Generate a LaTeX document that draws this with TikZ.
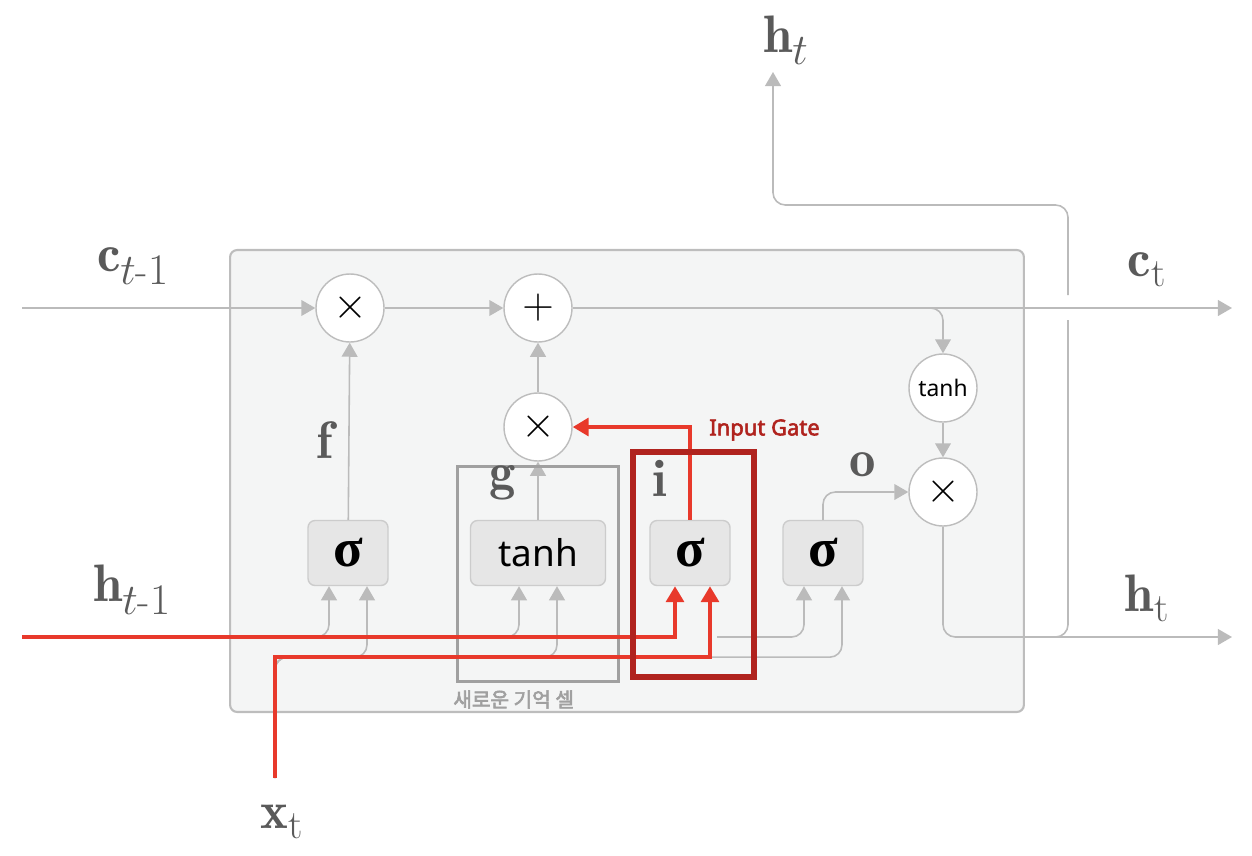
\documentclass[tikz,border=0pt]{standalone}
\usepackage{amsmath}
\usepackage{bm}
\usepackage{fontspec}
\setsansfont{Noto Sans}
\newfontfamily\kofont{Noto Sans CJK KR}[AutoFakeBold=3]
\newfontfamily\gatefont{Noto Sans}[AutoFakeBold=2.5]
\newfontfamily\sigfont{Liberation Serif}
\usetikzlibrary{arrows.meta,positioning,calc}
\definecolor{cellbg}{HTML}{F4F5F5}
\definecolor{celledge}{HTML}{BDBDBD}
\definecolor{gatebg}{HTML}{E6E6E6}
\definecolor{gateedge}{HTML}{CCCCCC}
\definecolor{wiregray}{HTML}{BBBBBB}
\definecolor{labelgray}{HTML}{5A5A5A}
\definecolor{hotred}{HTML}{E8392B}
\definecolor{darkred}{HTML}{B0231E}
\definecolor{memgray}{HTML}{A0A0A0}
\newcommand{\bigfont}{\fontsize{30}{34}\selectfont}
\DeclareMathSizes{30}{30}{23}{18}
\newcommand{\sig}{{\sigfont\bfseries σ}}
\tikzset{%
  % blocks
  cell/.style={draw=celledge, fill=cellbg, rounded corners=4pt, line width=1.2pt},
  op/.style={circle, draw=celledge, fill=white, minimum size=1.36cm, inner sep=0pt,
    line width=0.8pt, font=\fontsize{28}{30}\selectfont},
  gate/.style={draw=gateedge, fill=gatebg, rounded corners=4pt, minimum width=1.6cm,
    minimum height=1.3cm, inner sep=0pt, line width=0.8pt, font=\fontsize{31}{34}\selectfont},
  memframe/.style={draw=memgray, line width=1.7pt, minimum width=3.22cm, minimum height=4.3cm},
  gateframe/.style={draw=darkred, line width=3.4pt, minimum width=2.42cm, minimum height=4.5cm},
  % wires
  line/.style={draw=wiregray, line width=0.9pt, rounded corners=7pt},
  wire/.style={line, -{Triangle[width=9pt,length=8pt]}},
  redwire/.style={draw=hotred, line width=2.2pt, -{Triangle[width=10pt,length=9pt]}},
  % text
  var/.style={text=labelgray, font=\bigfont, inner sep=0pt},
}

\begin{document}
\begin{tikzpicture}[x=0.02cm, y=-0.02cm]
  \useasboundingbox (0,0) rectangle (1252,856);

  % cell
  \node[cell, minimum width=15.88cm, minimum height=9.24cm] (cellbox) at (627,481) {};

  % end points
  \coordinate (cin) at (22,308);
  \coordinate (cout) at (1232,308);
  \coordinate (hin) at (22,637);
  \coordinate (hout) at (1232,637);
  \coordinate (xin) at (275,778);
  \coordinate (htop) at (773,72);

  % operations
  \node[op] (fmul) at (350,308) {$\times$};
  \node[op] (add) at (538,308) {$+$};
  \node[op] (imul) at (538,427) {$\times$};
  \node[op, font=\sffamily\fontsize{13}{15}\selectfont] (ctanh) at (943,388) {tanh};
  \node[op] (omul) at (943,492) {$\times$};

  % gates
  \node[gate] (fsig) at (348,553) {\sig};
  \node[gate, minimum width=2.7cm, font=\sffamily\fontsize{21}{24}\selectfont] (gtanh) at (538,553) {tanh};
  \node[gate] (isig) at (690,553) {\sig};
  \node[gate] (osig) at (823,553) {\sig};

  % cell state
  \draw[wire] (cin) -- (fmul);
  \draw[wire] (fmul) -- (add);
  \draw[wire] (add) -- (cout);
  \draw[wire] (905,308) -| (ctanh);
  \draw[wire] (ctanh) -- (omul);
  \draw[wire] (fsig) -- (fmul);
  \draw[wire] (gtanh) -- (imul);
  \draw[wire] (imul) -- (add);
  \draw[wire] (osig.north) |- (omul.west);

  % hidden state
  \draw[wire] (omul) |- (hout);
  \draw[line] (1040,637) -| (1068,320);
  \draw[wire] (1068,295) -- (1068,205) -| (htop);

  % gate inputs
  \foreach \g in {fsig,gtanh} {
    \draw[wire] (hin) -| ($(\g.south)+(-19,0)$);
    \draw[wire] (xin) |- ($(\g.south)+(19,71)$) -- ($(\g.south)+(19,0)$);
  }
  \draw[wire] (717,637) -| ($(osig.south)+(-19,0)$);
  \draw[wire] (xin) |- ($(osig.south)+(19,71)$) -- ($(osig.south)+(19,0)$);

  \node[memframe] (gbox) at (538,574) {};
  \node[anchor=north west, text=memgray, font=\kofont\bfseries\fontsize{11.5}{13}\selectfont,
    inner sep=0pt] (gtext) at ($(gbox.south west)+(-3,7)$) {새로운 기억 셀};

  % input gate path
  \draw[redwire] (hin) -| ($(isig.south)+(-15,0)$);
  \draw[redwire] (xin) |- ($(isig.south)+(20,71)$) -- ($(isig.south)+(20,0)$);
  \draw[redwire] (isig.north) |- (imul.east);
  \node[gateframe] (ibox) at (693.5,564.5) {};
  \node[anchor=west, text=darkred, font=\gatefont\bfseries\fontsize{12.5}{14}\selectfont,
    inner sep=0pt] (gatename) at (709,430) {Input Gate};

  % labels
  \node[var] (lcin) at (133,266) {$\mathbf{c}_{t\textrm{-}1}$};
  \node[var] (lcout) at (1147,270) {$\mathbf{c}_{\mathrm{t}}$};
  \node[var] (lhin) at (132,590) {$\mathbf{h}_{t\textrm{-}1}$};
  \node[var] (lhout) at (1147,598) {$\mathbf{h}_{\mathrm{t}}$};
  \node[var] (lhtop) at (786,40) {$\mathbf{h}_{t}$};
  \node[var] (lxin) at (282,822) {$\mathbf{x}_{\mathrm{t}}$};
  \node[var] (lf) at (325,440) {$\mathbf{f}$};
  \node[var] (lg) at (503,483) {$\mathbf{g}$};
  \node[var] (li) at (660,478) {$\mathbf{i}$};
  \node[var] (lo) at (863,465) {$\mathbf{o}$};
\end{tikzpicture}
\end{document}
